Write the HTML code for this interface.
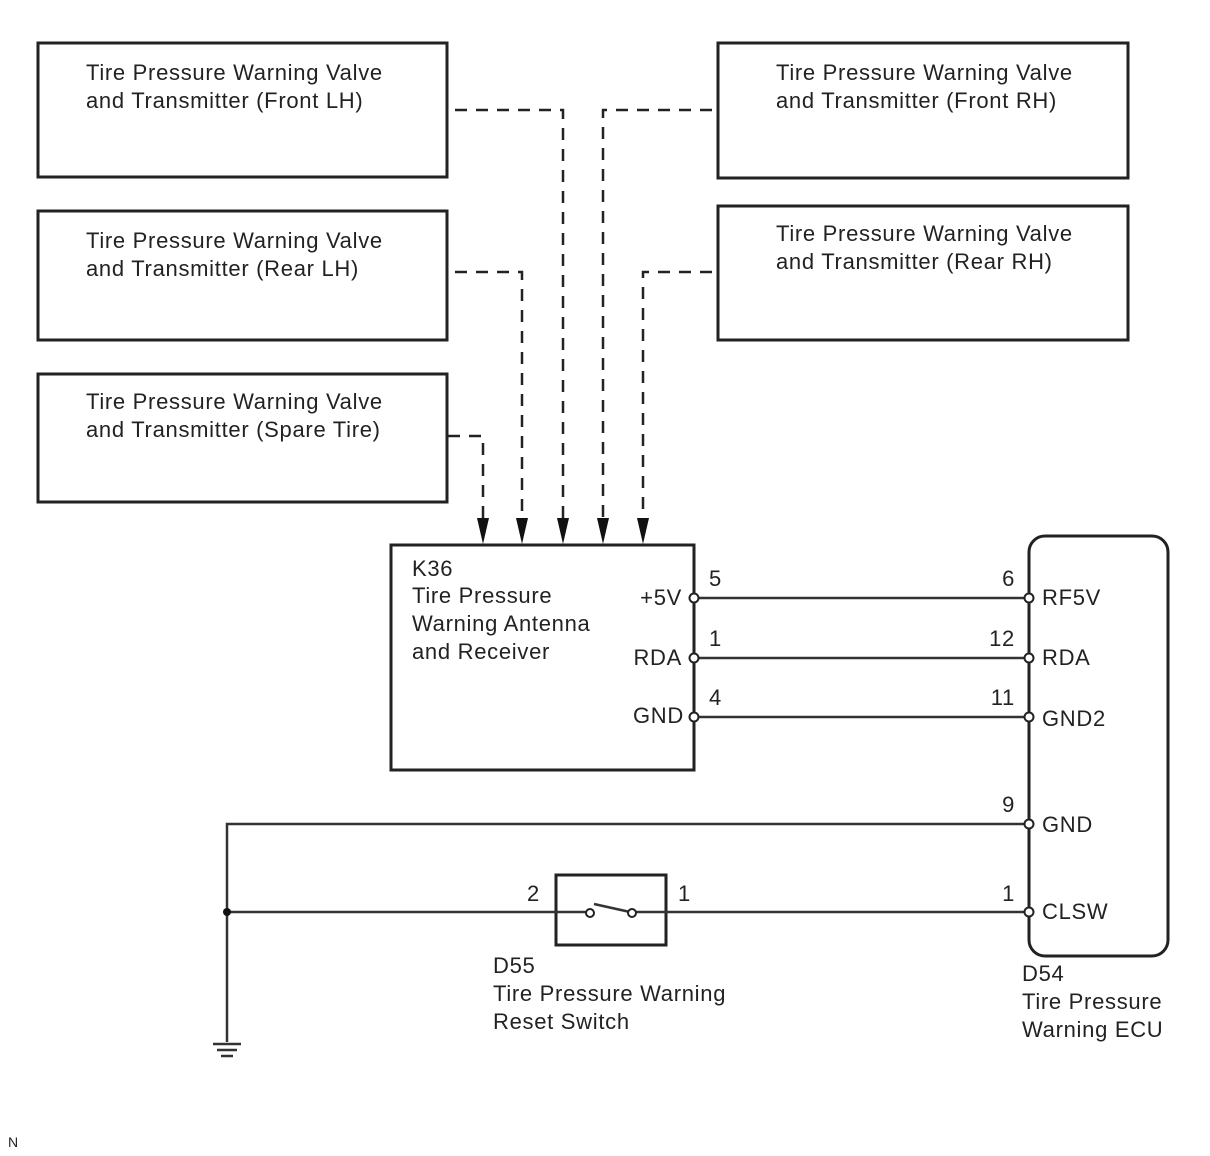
<!DOCTYPE html>
<html><head><meta charset="utf-8"><style>
html,body{margin:0;padding:0;background:#fff}
svg{display:block}
text{font-family:"Liberation Sans",sans-serif;font-size:22px;letter-spacing:0.7px;fill:#222}
</style></head><body>
<svg width="1210" height="1156" viewBox="0 0 1210 1156">
<g fill="none" stroke="#222" stroke-width="3">
<rect x="38" y="43" width="409" height="134"/>
<rect x="718" y="43" width="410" height="135"/>
<rect x="38" y="211" width="409" height="129"/>
<rect x="718" y="206" width="410" height="134"/>
<rect x="38" y="374" width="409" height="128"/>
<rect x="391" y="545" width="303" height="225"/>
<rect x="1029" y="536" width="139" height="420" rx="16"/>
<rect x="556" y="875" width="110" height="70"/>
</g>
<g fill="none" stroke="#222" stroke-width="2.5" stroke-dasharray="12,9">
<path d="M455 110 H563 V520"/>
<path d="M712 110 H603 V520"/>
<path d="M455 272 H522 V520"/>
<path d="M712 272 H643 V520"/>
<path d="M448 436 H483 V520"/>
</g>
<g fill="#111">
<polygon points="477,518 489,518 483,544"/>
<polygon points="516,518 528,518 522,544"/>
<polygon points="557,518 569,518 563,544"/>
<polygon points="597,518 609,518 603,544"/>
<polygon points="637,518 649,518 643,544"/>
</g>
<g stroke="#333" stroke-width="2.5" fill="none">
<path d="M694 598 H1029 M694 658 H1029 M694 717 H1029"/>
<path d="M1029 824 H227 V1042"/>
<path d="M227 912 H590 M634 912 H1029"/>
<path d="M594 904 L630 912"/>
<path d="M213 1044 H241 M217 1050 H237 M221 1056 H233" stroke-width="2.5"/>
</g>
<circle cx="227" cy="912" r="4" fill="#111"/>
<g fill="#fff" stroke="#222" stroke-width="2">
<circle cx="694" cy="598" r="4.5"/><circle cx="694" cy="658" r="4.5"/><circle cx="694" cy="717" r="4.5"/>
<circle cx="1029" cy="598" r="4.5"/><circle cx="1029" cy="658" r="4.5"/><circle cx="1029" cy="717" r="4.5"/>
<circle cx="1029" cy="824" r="4.5"/><circle cx="1029" cy="912" r="4.5"/>
<circle cx="590" cy="913" r="4"/><circle cx="632" cy="913" r="4"/>
</g>
<text x="86" y="80">Tire Pressure Warning Valve</text>
<text x="86" y="108">and Transmitter (Front LH)</text>
<text x="776" y="80">Tire Pressure Warning Valve</text>
<text x="776" y="108">and Transmitter (Front RH)</text>
<text x="86" y="248">Tire Pressure Warning Valve</text>
<text x="86" y="276">and Transmitter (Rear LH)</text>
<text x="776" y="241">Tire Pressure Warning Valve</text>
<text x="776" y="269">and Transmitter (Rear RH)</text>
<text x="86" y="409">Tire Pressure Warning Valve</text>
<text x="86" y="437">and Transmitter (Spare Tire)</text>
<text x="412" y="576">K36</text>
<text x="412" y="603">Tire Pressure</text>
<text x="412" y="631">Warning Antenna</text>
<text x="412" y="659">and Receiver</text>
<text x="682" y="605" text-anchor="end">+5V</text>
<text x="682" y="665" text-anchor="end">RDA</text>
<text x="684" y="723" text-anchor="end">GND</text>
<text x="709" y="586">5</text><text x="709" y="646">1</text><text x="709" y="705">4</text>
<text x="1015" y="586" text-anchor="end">6</text>
<text x="1015" y="646" text-anchor="end">12</text>
<text x="1015" y="705" text-anchor="end">11</text>
<text x="1015" y="812" text-anchor="end">9</text>
<text x="1015" y="901" text-anchor="end">1</text>
<text x="1042" y="605">RF5V</text>
<text x="1042" y="665">RDA</text>
<text x="1042" y="726">GND2</text>
<text x="1042" y="832">GND</text>
<text x="1042" y="919">CLSW</text>
<text x="527" y="901">2</text>
<text x="678" y="901">1</text>
<text x="493" y="973">D55</text>
<text x="493" y="1001">Tire Pressure Warning</text>
<text x="493" y="1029">Reset Switch</text>
<text x="1022" y="981">D54</text>
<text x="1022" y="1009">Tire Pressure</text>
<text x="1022" y="1037">Warning ECU</text>
<text x="8" y="1147" style="font-size:14px;letter-spacing:0">N</text>
</svg>
</body></html>
